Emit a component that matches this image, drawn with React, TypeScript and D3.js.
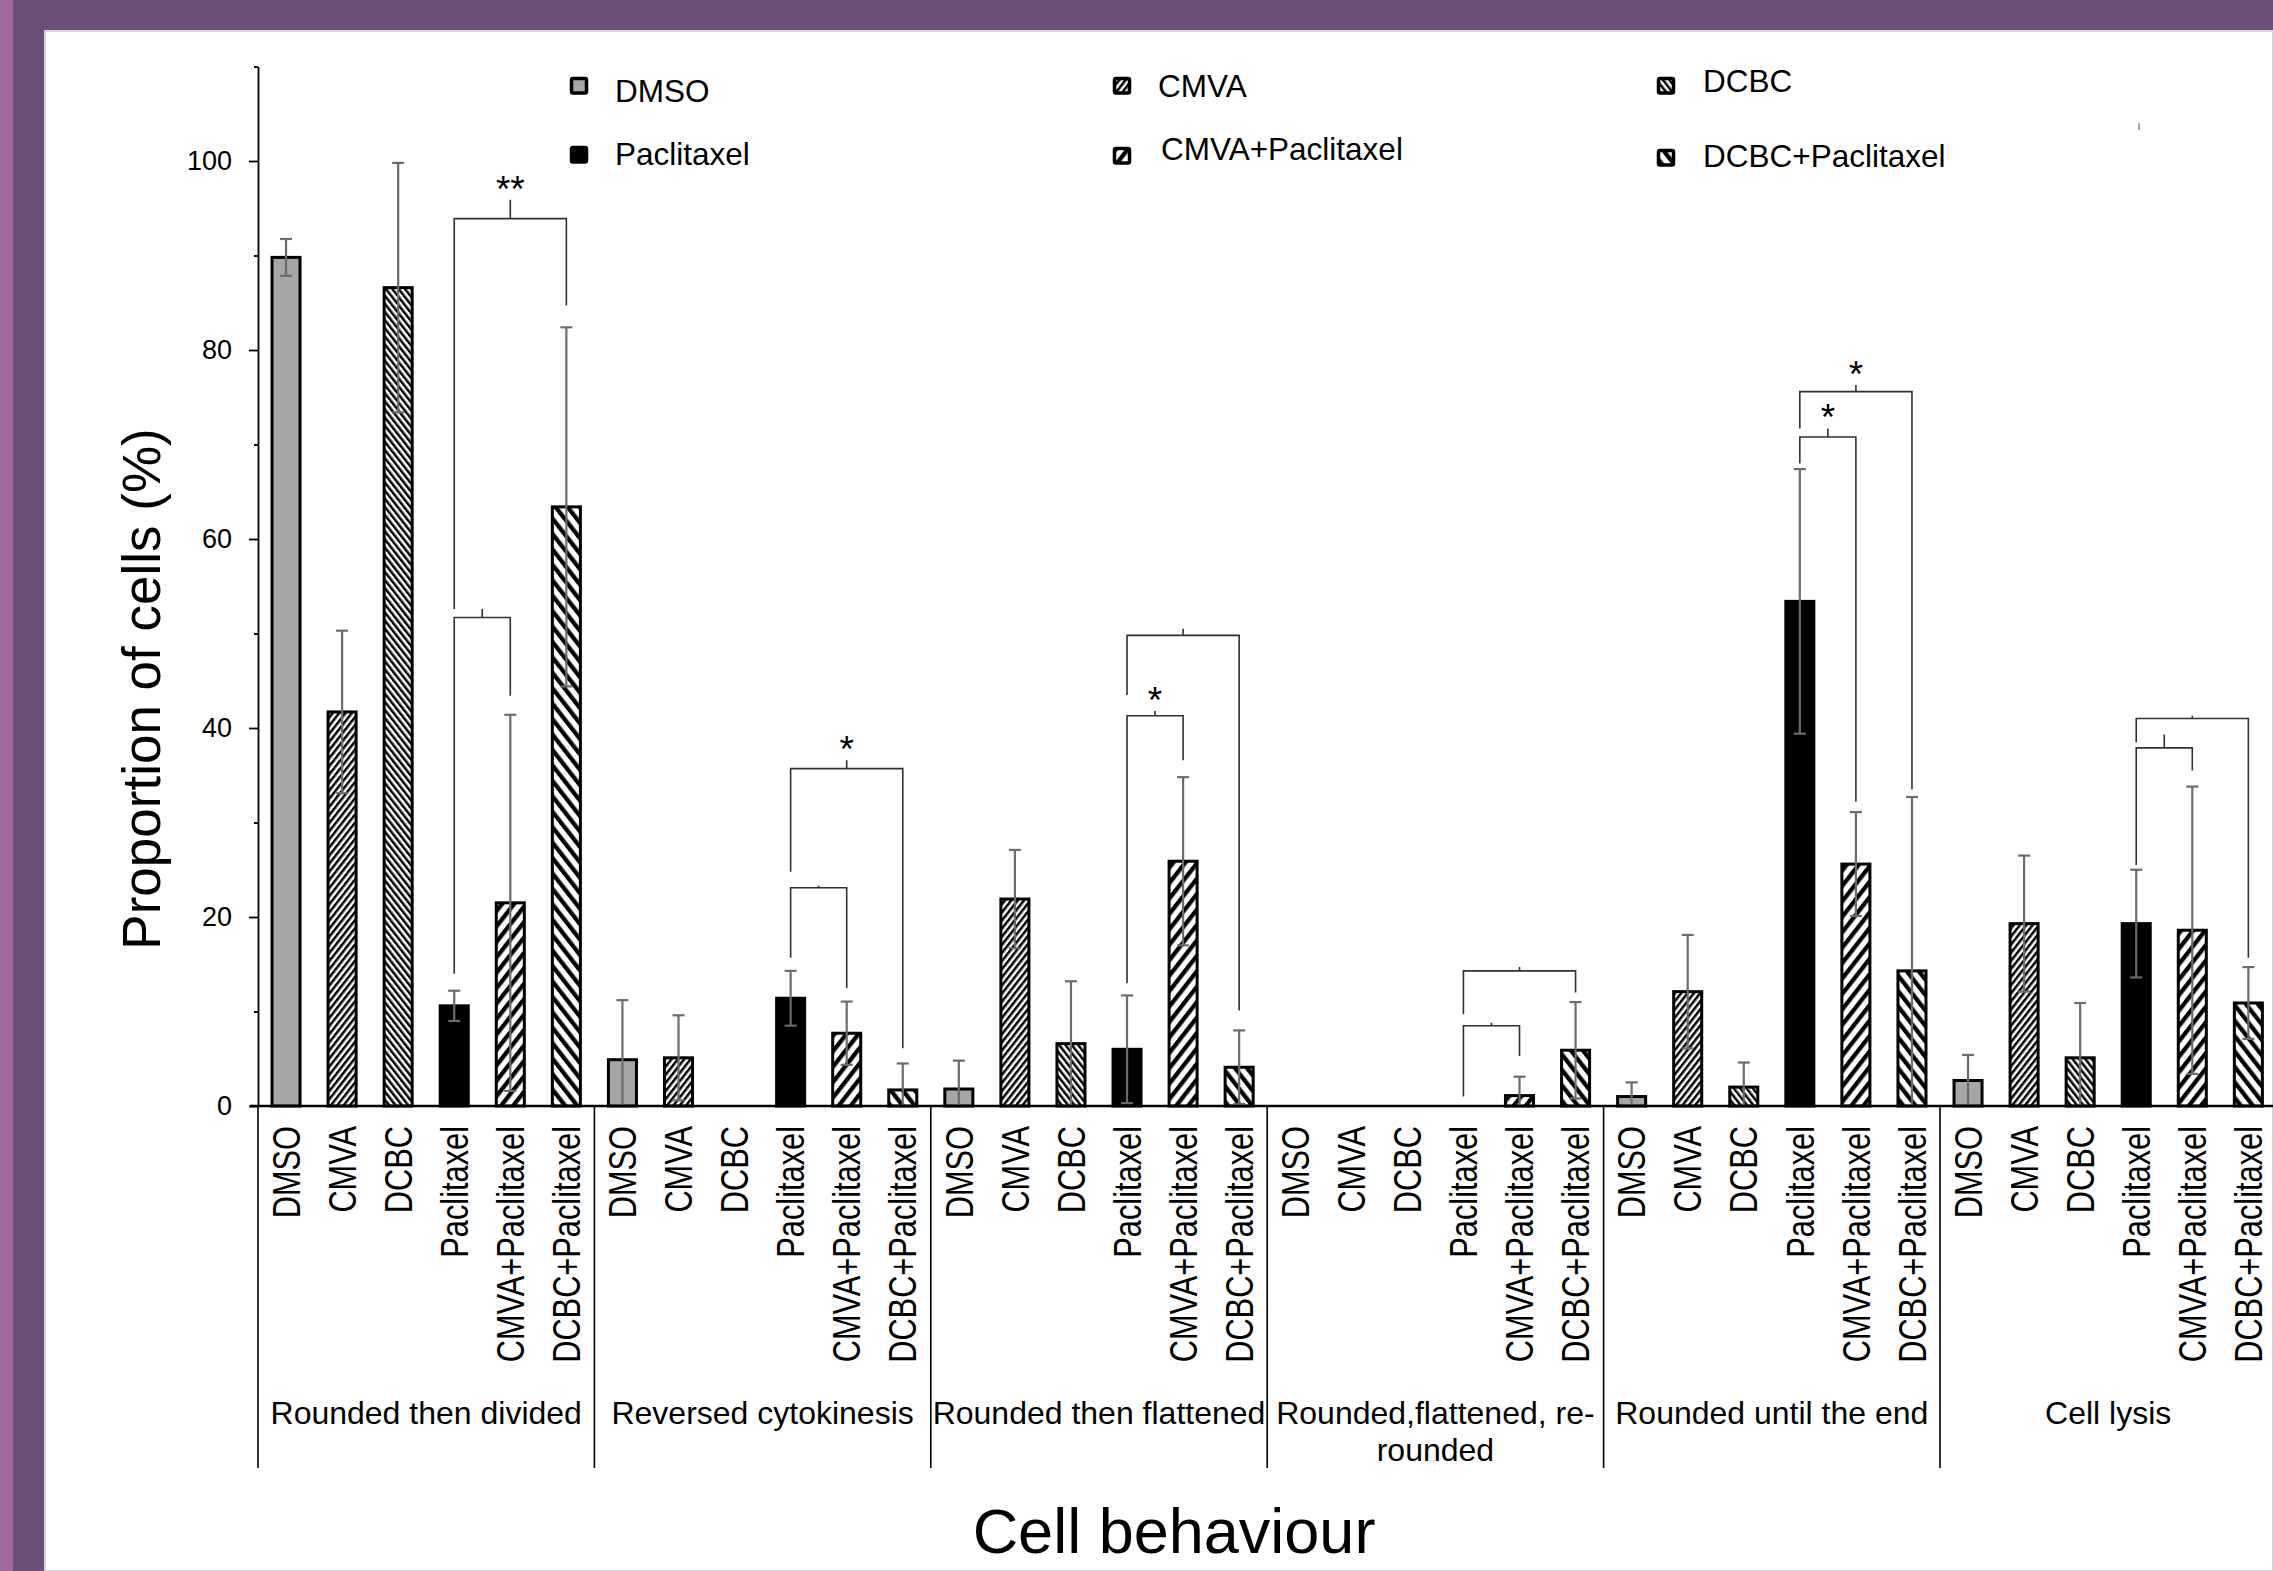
import React, { useEffect, useRef } from "react";
import * as d3 from "d3";

const W = 2273;
const H = 1571;
const FONT = "'Liberation Sans', Arial, Helvetica, sans-serif";

const groupNames = [
  "Rounded then divided",
  "Reversed cytokinesis",
  "Rounded then flattened",
  "Rounded,flattened, re-rounded",
  "Rounded until the end",
  "Cell lysis",
];
const groupLabelLines = [
  ["Rounded then divided"],
  ["Reversed cytokinesis"],
  ["Rounded then flattened"],
  ["Rounded,flattened, re-", "rounded"],
  ["Rounded until the end"],
  ["Cell lysis"],
];
const treatments = ["DMSO", "CMVA", "DCBC", "Paclitaxel", "CMVA+Paclitaxel", "DCBC+Paclitaxel"];

// mean % of cells per behaviour group, one array per treatment
const dmsoMean = [89.8, 4.9, 1.8, 0, 1.0, 2.7];
const dmsoSd = [1.95, 6.3, 3.0, 0, 1.5, 2.7];
const cmvaMean = [41.7, 5.1, 21.9, 0, 12.1, 19.3];
const cmvaSd = [8.6, 4.5, 5.2, 0, 6.0, 7.2];
const dcbcMean = [86.6, 0, 6.6, 0, 2.0, 5.1];
const dcbcSd = [13.2, 0, 6.6, 0, 2.6, 5.8];
const pacMean = [10.6, 11.4, 6.0, 0, 53.4, 19.3];
const pacSd = [1.6, 2.9, 5.7, 0, 14.0, 5.7];
const cmvaPacMean = [21.5, 7.7, 25.9, 1.1, 25.6, 18.6];
const cmvaPacSd = [19.9, 3.35, 8.9, 2.0, 5.5, 15.2];
const dcbcPacMean = [63.4, 1.7, 4.1, 5.9, 14.3, 10.9];
const dcbcPacSd = [19.0, 2.8, 3.9, 5.1, 18.4, 3.8];

const means = [dmsoMean, cmvaMean, dcbcMean, pacMean, cmvaPacMean, dcbcPacMean];
const sds = [dmsoSd, cmvaSd, dcbcSd, pacSd, cmvaPacSd, dcbcPacSd];

const majorTicks = [0, 20, 40, 60, 80, 100];
const minorTicks = [10, 30, 50, 70, 90, 110];

// significance brackets (values in % units): group, from/to treatment, bar height, tick top, leg ends, mark
const brackets = [
  { g: 0, a: 3, b: 5, top: 93.9, tick: 95.9, leftEnd: 52.6, rightEnd: 84.7, mark: "**" },
  { g: 0, a: 3, b: 4, top: 51.7, tick: 52.6, leftEnd: 14.0, rightEnd: 43.4, mark: "" },
  { g: 1, a: 3, b: 5, top: 35.7, tick: 36.6, leftEnd: 24.8, rightEnd: 6.1, mark: "*" },
  { g: 1, a: 3, b: 4, top: 23.1, tick: 23.3, leftEnd: 15.7, rightEnd: 12.5, mark: "" },
  { g: 2, a: 3, b: 5, top: 49.8, tick: 50.5, leftEnd: 43.5, rightEnd: 10.1, mark: "" },
  { g: 2, a: 3, b: 4, top: 41.3, tick: 41.8, leftEnd: 13.0, rightEnd: 36.6, mark: "*" },
  { g: 3, a: 3, b: 5, top: 14.3, tick: 14.7, leftEnd: 9.7, rightEnd: 12.0, mark: "" },
  { g: 3, a: 3, b: 4, top: 8.5, tick: 8.8, leftEnd: 1.0, rightEnd: 5.3, mark: "" },
  { g: 4, a: 3, b: 5, top: 75.6, tick: 76.3, leftEnd: 71.7, rightEnd: 33.5, mark: "*" },
  { g: 4, a: 3, b: 4, top: 70.8, tick: 71.7, leftEnd: 68.0, rightEnd: 32.2, mark: "*" },
  { g: 5, a: 3, b: 5, top: 41.0, tick: 41.3, leftEnd: 38.5, rightEnd: 15.7, mark: "" },
  { g: 5, a: 3, b: 4, top: 37.9, tick: 39.3, leftEnd: 25.5, rightEnd: 35.5, mark: "" },
];

const fills = [
  "#a6a6a6",
  "url(#hatchCmva)",
  "url(#hatchDcbc)",
  "#000000",
  "url(#hatchCmvaPac)",
  "url(#hatchDcbcPac)",
];

// legend layout: square top-left and text anchor
const legendLayout = [
  { sx: 570, sy: 77, tx: 615, ty: 102 },
  { sx: 1113, sy: 77, tx: 1158, ty: 97 },
  { sx: 1657, sy: 77, tx: 1703, ty: 92 },
  { sx: 570, sy: 146, tx: 615, ty: 165 },
  { sx: 1113, sy: 147, tx: 1161, ty: 160 },
  { sx: 1657, sy: 149, tx: 1703, ty: 167 },
];

const App: React.FC = () => {
  const svgRef = useRef<SVGSVGElement>(null);

  useEffect(() => {
    if (!svgRef.current) return;
    const svg = d3.select(svgRef.current);
    svg.selectAll("*").remove();

    const plotLeft = 258;
    const plotRight = 2276.4;
    const baseY = 1106;

    const defs = svg.append("defs");
    const addHatch = (id: string, period: number, angle: number, frac: number) => {
      const p = defs.append("pattern")
        .attr("id", id)
        .attr("patternUnits", "userSpaceOnUse")
        .attr("width", period)
        .attr("height", period)
        .attr("patternTransform", `rotate(${angle})`);
      p.append("rect").attr("width", period).attr("height", period).attr("fill", "#fff");
      p.append("rect").attr("width", period * frac).attr("height", period).attr("fill", "#000");
    };
    addHatch("hatchCmva", 5, 38, 0.5);
    addHatch("hatchDcbc", 5, -38, 0.5);
    addHatch("hatchCmvaPac", 9.5, 38, 0.45);
    addHatch("hatchDcbcPac", 9.5, -38, 0.45);

    // background frame
    svg.append("rect").attr("width", W).attr("height", H).attr("fill", "#6a5079");
    svg.append("rect").attr("width", 13).attr("height", H).attr("fill", "#9c6a9c");
    svg.append("rect").attr("x", 45).attr("y", 31).attr("width", W - 45).attr("height", H - 31)
      .attr("fill", "#fff").attr("stroke", "#d8d4dc").attr("stroke-width", 2);

    const x0 = d3.scaleBand<number>()
      .domain(d3.range(groupNames.length))
      .range([plotLeft, plotRight])
      .paddingInner(0)
      .paddingOuter(0);

    const x1 = d3.scaleBand<number>()
      .domain(d3.range(treatments.length))
      .range([0, x0.bandwidth()])
      .paddingInner(0.5)
      .paddingOuter(0.25);

    const y = d3.scaleLinear().domain([0, 110]).range([baseY, baseY - 110 * 9.45]);

    const cx = (g: number, t: number) => (x0(g) || 0) + (x1(t) || 0) + x1.bandwidth() / 2;

    // legend
    const legend = svg.append("g").attr("font-family", FONT);
    treatments.forEach((t, i) => {
      const l = legendLayout[i];
      legend.append("rect")
        .attr("x", l.sx + 1.5).attr("y", l.sy + 1.5)
        .attr("width", 15).attr("height", 14.5)
        .attr("fill", fills[i]).attr("stroke", "#000").attr("stroke-width", 3.5)
        .attr("rx", 1.5);
      legend.append("text")
        .attr("x", l.tx).attr("y", l.ty)
        .attr("font-size", 31.5).attr("fill", "#000")
        .text(t);
    });
    svg.append("line").attr("x1", 2139).attr("x2", 2139).attr("y1", 123).attr("y2", 130)
      .attr("stroke", "#888").attr("stroke-width", 1.5);

    const g = svg.append("g");

    // bars
    groupNames.forEach((_, gi) => {
      treatments.forEach((_, ti) => {
        const m = means[ti][gi];
        if (m <= 0) return;
        g.append("rect")
          .attr("x", (x0(gi) || 0) + (x1(ti) || 0))
          .attr("y", y(m))
          .attr("width", x1.bandwidth())
          .attr("height", y(0) - y(m))
          .attr("fill", fills[ti])
          .attr("stroke", "#000")
          .attr("stroke-width", 3);
      });
    });

    // error bars
    const errColor = "#6b6b6b";
    groupNames.forEach((_, gi) => {
      treatments.forEach((_, ti) => {
        const m = means[ti][gi];
        const s = sds[ti][gi];
        if (m <= 0 || s <= 0) return;
        const c = cx(gi, ti);
        const lo = Math.max(0, m - s);
        g.append("line").attr("x1", c).attr("x2", c).attr("y1", y(lo)).attr("y2", y(m + s))
          .attr("stroke", errColor).attr("stroke-width", 2.2);
        g.append("line").attr("x1", c - 6).attr("x2", c + 6).attr("y1", y(m + s)).attr("y2", y(m + s))
          .attr("stroke", errColor).attr("stroke-width", 2.2);
        if (m - s > 0) {
          g.append("line").attr("x1", c - 6).attr("x2", c + 6).attr("y1", y(lo)).attr("y2", y(lo))
            .attr("stroke", errColor).attr("stroke-width", 2.2);
        }
      });
    });

    // significance brackets
    brackets.forEach(b => {
      const xa = cx(b.g, b.a);
      const xb = cx(b.g, b.b);
      const mid = (xa + xb) / 2;
      g.append("path")
        .attr("d", `M${xa},${y(b.leftEnd)}V${y(b.top)}H${xb}V${y(b.rightEnd)}M${mid},${y(b.top)}V${y(b.tick)}`)
        .attr("fill", "none").attr("stroke", "#303030").attr("stroke-width", 1.6);
      if (b.mark) {
        g.append("text")
          .attr("x", mid).attr("y", y(b.tick) + 2)
          .attr("text-anchor", "middle")
          .attr("font-family", FONT).attr("font-size", 37)
          .text(b.mark);
      }
    });

    // y axis
    const yAxis = g.append("g")
      .attr("transform", `translate(${plotLeft},0)`)
      .call(d3.axisLeft(y).tickValues(majorTicks).tickSize(9).tickPadding(17).tickSizeOuter(0));
    yAxis.select(".domain").attr("stroke", "#000").attr("stroke-width", 1.8);
    yAxis.selectAll(".tick line").attr("stroke", "#000").attr("stroke-width", 1.8);
    yAxis.selectAll(".tick text")
      .attr("font-family", FONT).attr("font-size", 27).attr("fill", "#000");

    const yMinor = g.append("g")
      .attr("transform", `translate(${plotLeft},0)`)
      .call(d3.axisLeft(y).tickValues(minorTicks).tickSize(4).tickFormat(() => "").tickSizeOuter(0));
    yMinor.select(".domain").remove();
    yMinor.selectAll(".tick line").attr("stroke", "#000").attr("stroke-width", 1.8);

    // x baseline
    g.append("line")
      .attr("x1", plotLeft - 8).attr("x2", W)
      .attr("y1", y(0)).attr("y2", y(0))
      .attr("stroke", "#000").attr("stroke-width", 2.6);

    // group separators
    d3.range(groupNames.length + 1).forEach(i => {
      const xs = i < groupNames.length ? (x0(i) || 0) : plotRight;
      g.append("line")
        .attr("x1", xs).attr("x2", xs)
        .attr("y1", y(0)).attr("y2", 1468)
        .attr("stroke", "#000").attr("stroke-width", 1.6);
    });

    // category labels (rotated, narrow)
    groupNames.forEach((_, gi) => {
      treatments.forEach((t, ti) => {
        g.append("text")
          .attr("transform", `translate(${cx(gi, ti)},1126) rotate(-90) scale(0.81,1)`)
          .attr("text-anchor", "end")
          .attr("dy", "0.36em")
          .attr("font-family", FONT).attr("font-size", 38).attr("fill", "#000")
          .text(t);
      });
    });

    // group labels
    groupLabelLines.forEach((lines, gi) => {
      const c = (x0(gi) || 0) + x0.bandwidth() / 2;
      lines.forEach((line, li) => {
        g.append("text")
          .attr("x", c).attr("y", 1424 + li * 37)
          .attr("text-anchor", "middle")
          .attr("font-family", FONT).attr("font-size", 32).attr("fill", "#000")
          .text(line);
      });
    });

    // axis titles
    svg.append("text")
      .attr("transform", `translate(160,689) rotate(-90)`)
      .attr("text-anchor", "middle")
      .attr("font-family", FONT).attr("font-size", 53).attr("fill", "#000")
      .text("Proportion of cells (%)");

    svg.append("text")
      .attr("x", 1174).attr("y", 1553)
      .attr("text-anchor", "middle")
      .attr("font-family", FONT).attr("font-size", 63).attr("fill", "#000")
      .text("Cell behaviour");
  }, []);

  return (
    <div style={{ position: "absolute", left: 0, top: 0 }}>
      <svg ref={svgRef} width={W} height={H} style={{ display: "block" }}></svg>
    </div>
  );
};

export default App;
